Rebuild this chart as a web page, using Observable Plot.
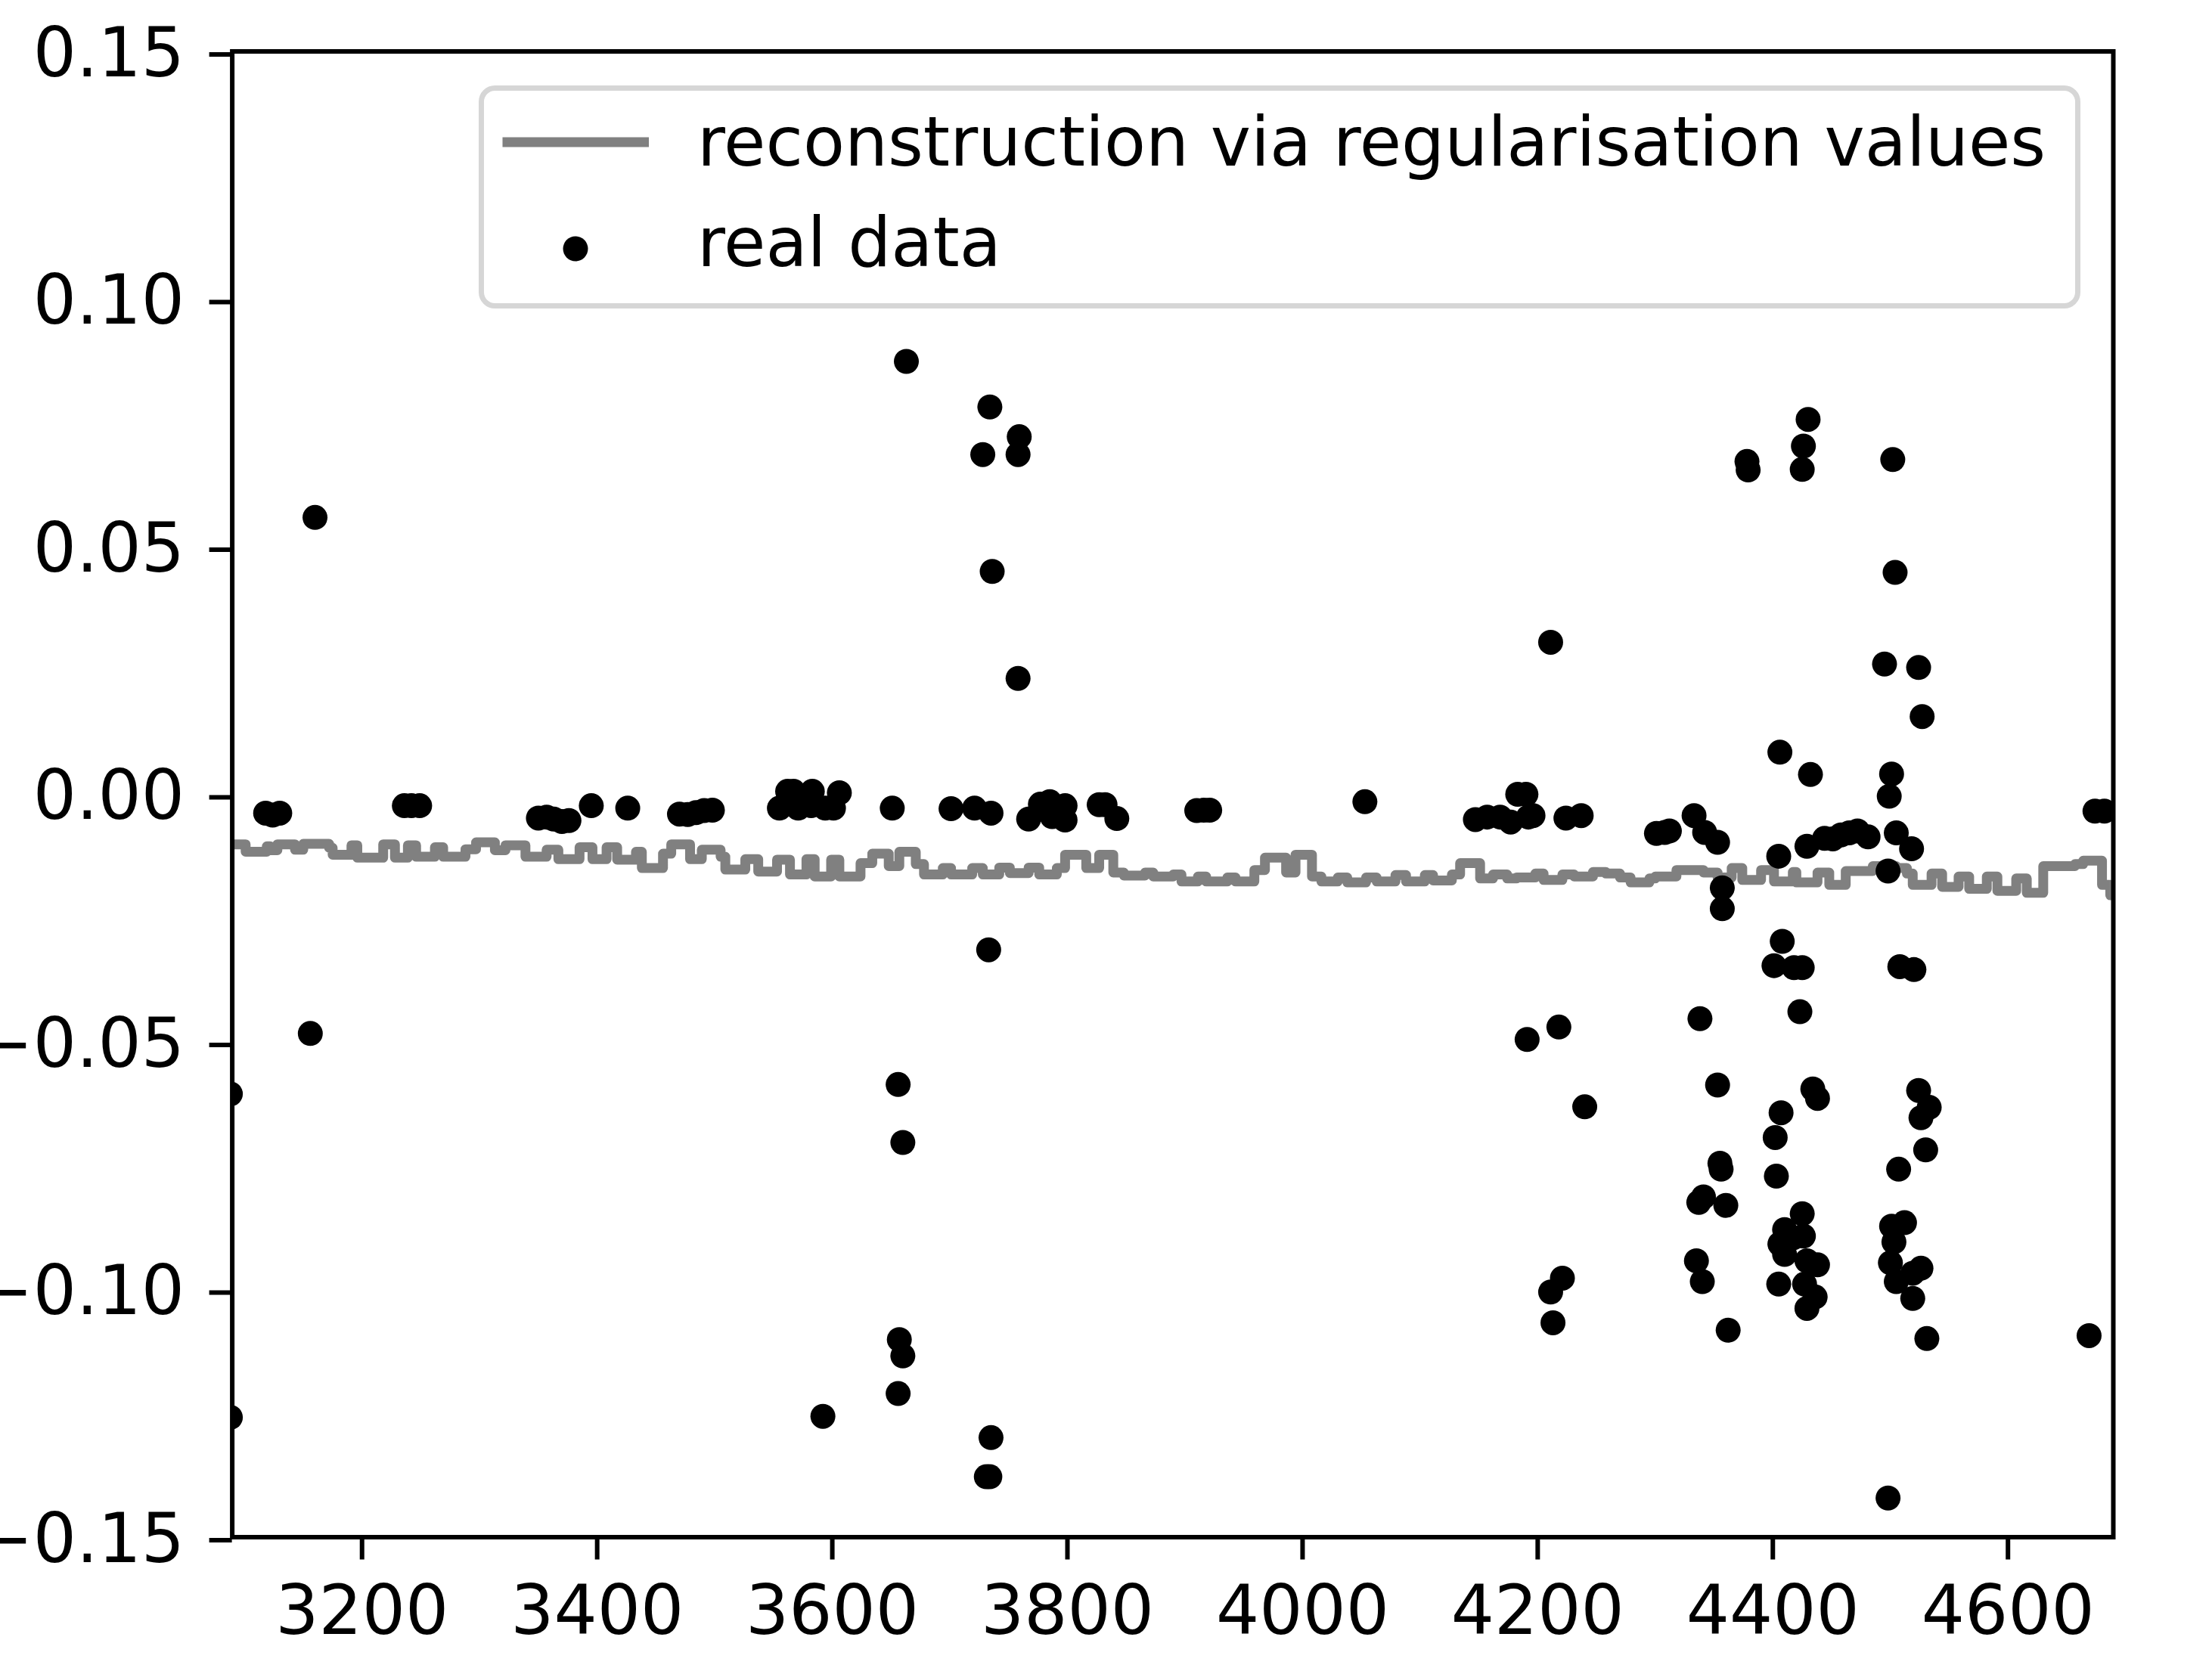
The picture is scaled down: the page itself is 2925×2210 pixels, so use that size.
<!DOCTYPE html>
<html>
<head>
<meta charset="utf-8">
<script src="https://cdn.jsdelivr.net/npm/d3@7"></script>
<script src="https://cdn.jsdelivr.net/npm/@observablehq/plot@0.6"></script>
<style>
  html, body { margin: 0; padding: 0; background: white; }
  #wrap { position: relative; width: 2925px; height: 2210px; overflow: hidden; }
  #legend { position: absolute; left: 0; top: 0; pointer-events: none; }
</style>
</head>
<body>
<div id="wrap"></div>
<script>
// ---- tick labels ----
const xTicks = [3200, 3400, 3600, 3800, 4000, 4200, 4400, 4600];
const yTicks = [-0.15, -0.10, -0.05, 0.00, 0.05, 0.10, 0.15];
const yTickLabels = ["−0.15", "−0.10", "−0.05", "0.00", "0.05", "0.10", "0.15"];

// ---- legend labels ----
const seriesNames = ["reconstruction via regularisation values", "real data"];

// ---- reconstruction (step line): start x of each step and its value ----
const lineX = [
  3089.6, 3101, 3119, 3122, 3128, 3143, 3150, 3172, 3175, 3191, 3196, 3218, 3228, 3239, 3246, 3262, 3269, 3288,
  3297, 3313, 3322, 3339, 3357, 3367, 3385, 3396, 3408, 3417, 3433, 3438, 3456, 3463, 3479, 3489, 3505, 3509,
  3526, 3537, 3553, 3564, 3578, 3585, 3599, 3606, 3624, 3634,
  3648, 3657, 3671, 3678, 3694, 3701, 3719, 3728, 3742, 3751, 3767, 3776, 3791, 3798, 3816, 3827, 3839, 3848,
  3866, 3873, 3890, 3897, 3911, 3918, 3936, 3943, 3959, 3968, 3986, 3994, 4008, 4016, 4030, 4038, 4054, 4063,
  4079, 4088, 4104, 4111, 4127, 4134, 4151, 4162, 4174,
  4182, 4198, 4205, 4221, 4231, 4247, 4258, 4270, 4279, 4295, 4300, 4318, 4341, 4353, 4365, 4374, 4390, 4401,
  4417, 4420, 4438, 4448, 4462, 4485, 4505, 4514, 4519, 4535, 4544, 4558, 4567, 4582, 4591, 4607, 4616, 4630,
  4657, 4664, 4680, 4687, 4689.6
];
const lineY = [
  -0.0101, -0.0116, -0.0105, -0.0113, -0.0101, -0.0112, -0.0100, -0.0108, -0.0122, -0.0103, -0.0128, -0.0101, -0.0128, -0.0103, -0.0126, -0.0107, -0.0126, -0.0111,
  -0.0097, -0.0113, -0.0103, -0.0126, -0.0112, -0.0131, -0.0107, -0.0131, -0.0107, -0.0132, -0.0116, -0.0149, -0.0120, -0.0101, -0.0131, -0.0112, -0.0126, -0.0152,
  -0.0131, -0.0156, -0.0132, -0.0162, -0.0131, -0.0166, -0.0132, -0.0166, -0.0139, -0.0120,
  -0.0145, -0.0116, -0.0141, -0.0162, -0.0149, -0.0162, -0.0149, -0.0162, -0.0148, -0.0159, -0.0148, -0.0162, -0.0149, -0.0122, -0.0149, -0.0122, -0.0158, -0.0164,
  -0.0158, -0.0166, -0.0162, -0.0176, -0.0166, -0.0176, -0.0168, -0.0176, -0.0153, -0.0128, -0.0158, -0.0122, -0.0166, -0.0176, -0.0168, -0.0178, -0.0168, -0.0176,
  -0.0163, -0.0176, -0.0163, -0.0174, -0.0162, -0.0139, -0.0170, -0.0162, -0.0170,
  -0.0168, -0.0160, -0.0173, -0.0162, -0.0166, -0.0157, -0.0160, -0.0168, -0.0178, -0.0170, -0.0166, -0.0153, -0.0158, -0.0168, -0.0149, -0.0173, -0.0153, -0.0176,
  -0.0157, -0.0178, -0.0158, -0.0183, -0.0155, -0.0145, -0.0149, -0.0160, -0.0183, -0.0160, -0.0187, -0.0166, -0.0191, -0.0166, -0.0195, -0.0170, -0.0199, -0.0145,
  -0.0141, -0.0134, -0.0183, -0.0204, -0.0204
];

// ---- real data points ----
const realX = [
  3088, 3088, 3118, 3124, 3130, 3156, 3160, 3236, 3242, 3249,
  3350, 3357, 3363, 3370, 3376, 3395, 3426, 3470, 3477, 3484, 3491, 3498,
  3555, 3562, 3567, 3571, 3582, 3583, 3594, 3601, 3606, 3592,
  3651, 3656, 3660, 3657, 3660, 3656, 3663, 3701, 3721, 3728, 3733, 3734, 3735, 3736, 3735, 3731, 3734,
  3758, 3759, 3758, 3767, 3777, 3785, 3787, 3798, 3798, 3827, 3832, 3842, 3910, 3916, 3921, 4053,
  4147, 4157, 4168, 4177, 4183, 4190, 4192, 4196, 4191, 4211, 4218, 4221, 4211, 4213, 4224, 4237, 4240,
  4301, 4308, 4312, 4333, 4338, 4342, 4353, 4353, 4357, 4357, 4355, 4356, 4337, 4341, 4360, 4335, 4340, 4362,
  4378, 4379, 4401, 4402, 4403, 4405, 4405, 4406, 4407, 4408, 4406, 4410, 4410, 4417, 4418, 4423, 4425, 4425,
  4426, 4425, 4426, 4430, 4427, 4429, 4429, 4429, 4432, 4434, 4436, 4438, 4438,
  4444, 4451, 4458, 4465, 4472, 4481,
  4495, 4498, 4498, 4499, 4501, 4501, 4500, 4502, 4503, 4504, 4505, 4505, 4507, 4508, 4512, 4518, 4519, 4519,
  4520, 4524, 4524, 4526, 4526, 4527, 4530, 4531, 4533, 4669, 4674, 4682
];
const realY = [
  -0.0605, -0.1258, -0.0038, -0.0042, -0.0038, -0.0483, 0.0559, -0.0023, -0.0023, -0.0023,
  -0.0048, -0.0046, -0.0050, -0.0055, -0.0053, -0.0023, -0.0028, -0.0040, -0.0041, -0.0037, -0.0033, -0.0032,
  -0.0028, 0.0006, 0.0006, -0.0028, -0.0023, 0.0006, -0.0028, -0.0028, 0.0003, -0.1256,
  -0.0028, -0.0586, -0.0703, -0.1101, -0.1134, -0.1210, 0.0874, -0.0029, -0.0028, 0.0686, -0.0314, 0.0782, -0.0038, 0.0450, -0.1299, -0.1378, -0.1378,
  0.0686, 0.0722, 0.0234, -0.0050, -0.0020, -0.0015, -0.0045, -0.0023, -0.0052, -0.0021, -0.0021, -0.0049, -0.0033, -0.0032, -0.0032, -0.0015,
  -0.0051, -0.0046, -0.0046, -0.0056, 0.0000, 0.0000, -0.0046, -0.0043, -0.0495, 0.0307, -0.0470, -0.0977, -0.1005, -0.1067, -0.0048, -0.0043, -0.0631,
  -0.0079, -0.0077, -0.0074, -0.0043, -0.0453, -0.0077, -0.0097, -0.0587, -0.0189, -0.0231, -0.0745, -0.0757, -0.0824, -0.0813, -0.0830, -0.0942, -0.0984, -0.1082,
  0.0672, 0.0655, -0.0346, -0.0693, -0.0771, -0.0989, -0.0125, 0.0085, -0.0643, -0.0297, -0.0908, -0.0879, -0.0929, -0.0896, -0.0350, -0.0439, -0.0350, -0.0847,
  -0.0892, 0.0656, 0.0703, 0.0757, -0.0989, -0.0105, -0.0942, -0.1038, 0.0040, -0.0595, -0.1015, -0.0614, -0.0950,
  -0.0089, -0.0090, -0.0082, -0.0078, -0.0074, -0.0086,
  0.0263, -0.0155, -0.1421, -0.0004, 0.0041, -0.0872, -0.0946, 0.0676, -0.0904, 0.0448, -0.0078, -0.0984, -0.0757, -0.0348, -0.0865, -0.0110, -0.0967, -0.1018,
  -0.0354, 0.0256, -0.0598, -0.0957, -0.0653, 0.0157, -0.0718, -0.1099, -0.0632, -0.1093, -0.0034, -0.0034
];

const lineData = lineX.map((x, i) => ({x, y: lineY[i]}));
const realData = realX.map((x, i) => ({x, y: realY[i]}));
const yLabel = new Map(yTicks.map((t, i) => [t.toFixed(2), yTickLabels[i]]));

const FONT = "DejaVu Sans";
const FS = 90;

const chart = Plot.plot({
  width: 2925,
  height: 2210,
  marginLeft: 306.6,
  marginRight: 131,
  marginTop: 67.5,
  marginBottom: 177.5,
  style: {fontFamily: FONT, fontSize: FS + "px", color: "black", background: "white", overflow: "visible"},
  x: {domain: [3089.6, 4689.6], label: null},
  y: {domain: [-0.15, 0.15], label: null},
  marks: [
    Plot.line(lineData, {x: "x", y: "y", curve: "step-after", stroke: "#808080", strokeWidth: 13, strokeLinejoin: "round", clip: true}),
    Plot.dot(realData, {x: "x", y: "y", r: 16.5, fill: "black", stroke: "none", clip: true}),
    Plot.frame({stroke: "black", strokeWidth: 6}),
    Plot.axisX({ticks: xTicks, tickSize: 30, tickPadding: 34, strokeWidth: 6, fontSize: FS, tickFormat: d => String(d), label: null}),
    Plot.axisY({ticks: yTicks, tickSize: 30, tickPadding: 33, strokeWidth: 6, fontSize: FS, dy: 4, tickFormat: d => yLabel.get(d.toFixed(2)), label: null})
  ]
});

const wrap = document.getElementById("wrap");
wrap.appendChild(chart);

// ---- legend overlay ----
const svgNS = "http://www.w3.org/2000/svg";
const leg = document.createElementNS(svgNS, "svg");
leg.setAttribute("id", "legend");
leg.setAttribute("width", 2925);
leg.setAttribute("height", 2210);
const box = document.createElementNS(svgNS, "rect");
box.setAttribute("x", 636.5); box.setAttribute("y", 116.5);
box.setAttribute("width", 2111); box.setAttribute("height", 288);
box.setAttribute("rx", 18); box.setAttribute("ry", 18);
box.setAttribute("fill", "white"); box.setAttribute("fill-opacity", 0.8);
box.setAttribute("stroke", "#d6d6d6"); box.setAttribute("stroke-width", 7);
leg.appendChild(box);
const ln = document.createElementNS(svgNS, "line");
ln.setAttribute("x1", 664.5); ln.setAttribute("x2", 858);
ln.setAttribute("y1", 188); ln.setAttribute("y2", 188);
ln.setAttribute("stroke", "#808080"); ln.setAttribute("stroke-width", 13);
leg.appendChild(ln);
const dot = document.createElementNS(svgNS, "circle");
dot.setAttribute("cx", 761); dot.setAttribute("cy", 329); dot.setAttribute("r", 16.5);
dot.setAttribute("fill", "black");
leg.appendChild(dot);
[[seriesNames[0], 219], [seriesNames[1], 352]].forEach(([t, yb]) => {
  const tx = document.createElementNS(svgNS, "text");
  tx.setAttribute("x", 922); tx.setAttribute("y", yb);
  tx.setAttribute("font-family", FONT); tx.setAttribute("font-size", FS);
  tx.setAttribute("fill", "black");
  tx.textContent = t;
  leg.appendChild(tx);
});
wrap.appendChild(leg);
</script>
</body>
</html>
